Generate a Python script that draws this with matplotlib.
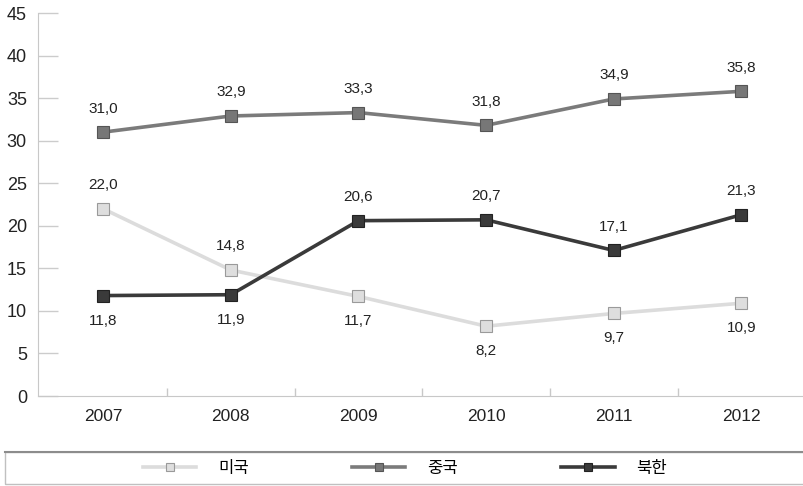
import matplotlib.pyplot as plt
from matplotlib.patches import Rectangle
from matplotlib.lines import Line2D

plt.rcParams['font.family'] = ['Liberation Sans', 'Noto Sans CJK KR', 'DejaVu Sans']

years = ['2007', '2008', '2009', '2010', '2011', '2012']
usa = [22.0, 14.8, 11.7, 8.2, 9.7, 10.9]
china = [31.0, 32.9, 33.3, 31.8, 34.9, 35.8]
nkorea = [11.8, 11.9, 20.6, 20.7, 17.1, 21.3]
names = ['미국', '중국', '북한']

# label above (+1) or below (-1)
usa_pos = [1, 1, -1, -1, -1, -1]
china_pos = [1, 1, 1, 1, 1, 1]
nk_pos = [-1, -1, 1, 1, 1, 1]

W, H = 804, 486
fig = plt.figure(figsize=(W / 100, H / 100), dpi=100)
ax = fig.add_axes([38 / W, (H - 396) / H, (W - 38) / W, (396 - 13) / H])

x = list(range(len(years)))
styles = [
    (usa, usa_pos, '#dcdcdc', '#dedede', '#9a9a9a'),
    (china, china_pos, '#7b7b7b', '#777777', '#555555'),
    (nkorea, nk_pos, '#3a3a3a', '#3a3a3a', '#222222'),
]
handles = []
for (vals, pos, lc, mfc, mec), name in zip(styles, names):
    ln, = ax.plot(x, vals, color=lc, lw=2.6, marker='s', ms=8,
                  mfc=mfc, mec=mec, mew=0.8, label=name, zorder=3)
    handles.append(ln)
    for xi, v, p in zip(x, vals, pos):
        off = 17 if p > 0 else -18
        ax.annotate(f'{v:.1f}'.replace('.', ','), (xi, v), xytext=(0, off),
                    textcoords='offset points', ha='center', va='center',
                    fontsize=11, color='#222222')

ax.set_xlim(-0.51, 5.49)
ax.set_ylim(0, 45)
ax.set_yticks(range(0, 46, 5))
ax.set_xticks(x)
ax.set_xticklabels(years)
ax.set_xticks([i + 0.5 for i in x[:-1]], minor=True)
ax.tick_params(axis='y', direction='in', length=14.5, width=1, color='#cccccc',
               labelsize=13, pad=8, labelcolor='#222222')
ax.tick_params(axis='x', which='major', length=0, labelsize=12.5, pad=9,
               labelcolor='#222222')
ax.tick_params(axis='x', which='minor', direction='in', length=6, width=1,
               color='#c8c8c8')
for s in ['top', 'right']:
    ax.spines[s].set_visible(False)
ax.spines['left'].set_color('#c8c8c8')
ax.spines['bottom'].set_color('#c8c8c8')

# legend box
fig.patches.append(Rectangle((5 / W, 2 / H), (W - 5) / W + 0.01, 32 / H,
                             transform=fig.transFigure, fill=False,
                             edgecolor='#c0c0c0', lw=1))
fig.lines.append(Line2D([5 / W, 1], [34 / H, 34 / H], transform=fig.transFigure,
                        color='#8c8c8c', lw=1.5))
fig.legend(handles=handles, loc='center left', bbox_to_anchor=(143 / W, 18 / H),
           ncol=3, frameon=False, fontsize=12, handlelength=3.2, handletextpad=1.3,
           columnspacing=6.2, markerscale=0.8, borderpad=0, borderaxespad=0)

fig.savefig('out.png', dpi=100)
